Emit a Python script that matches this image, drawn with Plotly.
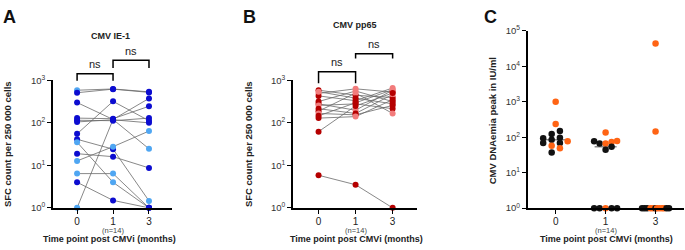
import plotly.graph_objects as go
import numpy as np

W, H = 685, 250

# ---------------- data ----------------
time_labels = ["0", "1", "3"]

# Panel A: CMV IE-1 (SFC per 250 000 cells), 14 patients, values at months 0, 1, 3
a_t0 = [585, 510, 300, 129, 105, 115, 55, 41, 35, 18.8, 12.7, 6.4, 4, 1]
a_t1 = [625, 620, 120, 125, 118, 112, 320, 24, 4, 16, 27.5, 6.4, 1.5, 120]
a_t3 = [535, 520, 375, 245, 100, 129, 112, 1.46, 1, 8.7, 64, 1, 1, 24.5]
a_c0 = ["L", "D", "D", "D", "D", "D", "D", "D", "L", "D", "L", "L", "D", "L"]
a_c1 = ["D", "D", "D", "D", "D", "D", "D", "D", "L", "D", "L", "L", "D", "D"]
a_c3 = ["D", "D", "D", "D", "D", "D", "D", "L", "D", "D", "L", "D", "D", "L"]

# Panel B: CMV pp65
b_t0 = [587, 492, 430, 316, 279, 257, 215, 188, 166, 146, 129, 62, 5.85, 540]
b_t1 = [444, 630, 331, 560, 198, 279, 166, 500, 154, 300, 140, 250, 3.5, 380]
b_t3 = [394, 528, 660, 316, 587, 215, 465, 166, 257, 600, 350, 500, 1, 280]
b_c0 = ["D", "L", "D", "D", "D", "L", "D", "D", "L", "D", "D", "D", "D", "L"]
b_c1 = ["D", "L", "D", "L", "L", "D", "D", "L", "D", "D", "L", "D", "D", "D"]
b_c3 = ["D", "D", "L", "D", "L", "D", "L", "L", "D", "L", "D", "D", "D", "D"]

# Panel C: CMV DNAemia peak (IU/ml)
c_t0 = [1000, 237, 150, 123, 94, 96, 85, 77, 69, 69, 57.5, 49, 37]
c_g0 = ["O", "O", "B", "B", "B", "B", "B", "O", "B", "B", "O", "O", "B"]
c_t1 = [136, 77, 66, 66, 73, 78, 44, 54, 1, 1, 1, 1, 1]
c_g1 = ["O", "B", "B", "O", "O", "O", "B", "B", "B", "B", "O", "B", "B"]
c_t3 = [44000, 145, 1, 1, 1, 1, 1, 1, 1, 1, 1, 1, 1, 1]
c_g3 = ["O", "O", "B", "B", "B", "O", "O", "B", "O", "O", "O", "O", "B", "B"]

# swarm offsets (layout, in category units)
c_off0 = [0, 0, 0.085, -0.08, -0.25, 0.085, -0.08, 0.24, -0.25, 0.085, -0.08, 0.085, -0.08]
c_off1 = [0, -0.23, -0.12, 0, 0.12, 0.23, 0, 0.12, -0.23, -0.12, 0, 0.12, 0.23]
c_off3 = [0, 0, -0.27, -0.22, -0.17, -0.1, -0.05, 0, 0.03, 0.08, 0.13, 0.17, 0.22, 0.27]

# ---------------- styles ----------------
BLUE_D, BLUE_L = "#0c0cd0", "#4fa6f2"
RED_D, RED_L = "#b50000", "#f27c7c"
ORANGE, BLACK = "#ff6414", "#111111"
FONT = "Liberation Sans, Arial, sans-serif"


def px(x):
    return x / W


def py(y):
    return 1 - y / H


fig = go.Figure()


def paired(t0, t1, t3, c0, c1, c3, dark, light, xa, ya):
    xs, ys = [], []
    for a, b, c in zip(t0, t1, t3):
        xs += [0, 1, 2, None]
        ys += [a, b, c, None]
    fig.add_trace(go.Scatter(x=xs, y=ys, mode="lines", xaxis=xa, yaxis=ya,
                             line=dict(color="#6a6a6a", width=0.8),
                             hoverinfo="skip", showlegend=False, cliponaxis=False))
    mx, my, mc = [], [], []
    for i, (vals, cols) in enumerate([(t0, c0), (t1, c1), (t3, c3)]):
        for v, c in zip(vals, cols):
            mx.append(i)
            my.append(v)
            mc.append(dark if c == "D" else light)
    fig.add_trace(go.Scatter(x=mx, y=my, mode="markers", xaxis=xa, yaxis=ya,
                             marker=dict(size=6, color=mc, line=dict(width=0)),
                             showlegend=False, cliponaxis=False))


paired(a_t0, a_t1, a_t3, a_c0, a_c1, a_c3, BLUE_D, BLUE_L, "x", "y")
paired(b_t0, b_t1, b_t3, b_c0, b_c1, b_c3, RED_D, RED_L, "x2", "y2")

# panel C swarm
for i, (vals, grp, off) in enumerate([(c_t0, c_g0, c_off0), (c_t1, c_g1, c_off1), (c_t3, c_g3, c_off3)]):
    med = float(np.median(vals))
    fig.add_trace(go.Scatter(x=[i - 0.22, i + 0.22], y=[med, med], mode="lines",
                             xaxis="x3", yaxis="y3", line=dict(color="#8a8a8a", width=1.5),
                             showlegend=False, hoverinfo="skip", cliponaxis=False))
    fig.add_trace(go.Scatter(x=[i + o for o in off], y=vals, mode="markers",
                             xaxis="x3", yaxis="y3",
                             marker=dict(size=6.5, color=[ORANGE if g == "O" else BLACK for g in grp],
                                         line=dict(width=0)),
                             showlegend=False, cliponaxis=False))


def log_ticks(n):
    return [10 ** k for k in range(n + 1)], ["10<sup>%d</sup>" % k for k in range(n + 1)]


def xax(l, r, rng, anchor):
    return dict(domain=[px(l), px(r)], range=rng, tickvals=[0, 1, 2], ticktext=time_labels,
                ticks="outside", ticklen=4, tickwidth=1.3, tickcolor="black",
                ticklabelstandoff=-1,
                showline=True, linecolor="black", linewidth=1.6, showgrid=False,
                zeroline=False, anchor=anchor, tickfont=dict(size=10, color="#222", family=FONT))


def yax(top, bot, n, anchor):
    tv, tt = log_ticks(n)
    return dict(type="log", domain=[py(bot), py(top)], range=[0, n], tickvals=tv, ticktext=tt,
                ticks="outside", ticklen=4, tickwidth=1.3, tickcolor="black",
                showline=True, linecolor="black", linewidth=1.6, showgrid=False,
                zeroline=False, anchor=anchor, tickfont=dict(size=9.5, color="#333", family=FONT))


fig.update_layout(
    width=W, height=H, autosize=False,
    margin=dict(l=0, r=0, t=0, b=0),
    paper_bgcolor="white", plot_bgcolor="white",
    font=dict(family=FONT, color="#222"),
    xaxis=xax(53, 172, [-0.67, 2.64], "y"),
    yaxis=yax(77, 211, 3, "x"),
    xaxis2=xax(293, 416.7, [-0.69, 2.65], "y2"),
    yaxis2=yax(77, 211, 3, "x2"),
    xaxis3=xax(527.7, 684, [-0.56, 2.57], "y3"),
    yaxis3=yax(25, 211.3, 5, "x3"),
)

ann = []


def txt(x, y, s, size, bold=False, angle=0, color="#222"):
    ann.append(dict(x=px(x), y=py(y), xref="paper", yref="paper", text=("<b>%s</b>" % s) if bold else s,
                    showarrow=False, xanchor="center", yanchor="middle", textangle=angle,
                    font=dict(size=size, color=color, family=FONT)))


# panel letters
txt(9, 10, "A", 18, True, color="#111")
txt(249, 10, "B", 18, True, color="#111")
txt(490, 11, "C", 18, True, color="#111")
# titles
txt(110, 30, "CMV IE-1", 9, True)
txt(355, 19, "CMV pp65", 9, True)
# y titles
txt(7, 144, "SFC count per 250 000 cells", 9.5, True, angle=-90)
txt(248, 144, "SFC count per 250 000 cells", 9.5, True, angle=-90)
txt(492, 120, "CMV DNAemia peak in IU/ml", 9.5, True, angle=-90)
# x titles & n
for cx, tx in [(113, 109), (355.7, 356), (605.7, 606)]:
    txt(cx, 234.5, "(n=14)", 7.5, color="#444")
    txt(tx, 243.5, "Time point post CMVi (months)", 9, True)

# brackets with "ns"
shapes = []


def bracket(xa, x0, x1, ytop, ybot, ylab):
    shapes.append(dict(type="path", xref=xa, yref="paper",
                       path="M %f,%f L %f,%f L %f,%f L %f,%f" % (x0, py(ybot), x0, py(ytop), x1, py(ytop), x1, py(ybot)),
                       line=dict(color="black", width=1.5)))
    ann.append(dict(x=(x0 + x1) / 2, y=py(ylab), xref=xa, yref="paper", text="ns", showarrow=False,
                    xanchor="center", yanchor="middle", font=dict(size=11, color="#222", family=FONT)))


bracket("x", 0, 1, 70, 77.5, 60)
bracket("x", 1, 2, 56, 64, 46)
bracket("x2", 0, 1, 68, 80, 58)
bracket("x2", 1, 2, 49, 54, 39)

fig.update_layout(annotations=ann, shapes=shapes)
fig.write_html("out.html", config={"displayModeBar": False},
               post_script="document.body.style.margin='0';document.body.style.overflow='hidden';")
